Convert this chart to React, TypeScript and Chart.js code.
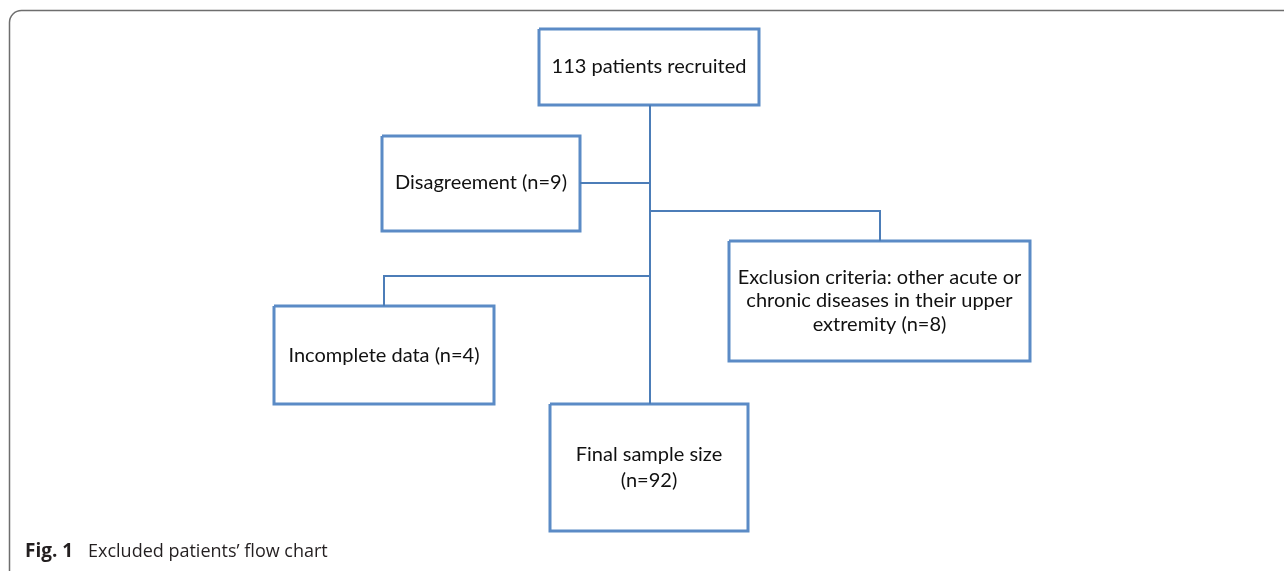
import React, { useEffect, useRef } from "react";
import { Chart, registerables } from "chart.js";

Chart.register(...registerables);

const W = 1284;
const H = 571;

// Boxes of the flow chart (in page pixel units used as data units)
const boxLabels: string[][] = [
  ["113 patients recruited"],
  ["Disagreement (n=9)"],
  ["Exclusion criteria: other acute or", "chronic diseases in their upper", "extremity (n=8)"],
  ["Incomplete data (n=4)"],
  ["Final sample size", "(n=92)"],
];
const boxLeft = [539, 382, 729, 274, 550];
const boxRight = [759, 580, 1030, 494, 748];
const boxTop = [29, 136, 241, 306, 404];
const boxBottom = [105, 231, 361, 404, 531];
const textCenterY = [67, 183, 301, 356, 468];
const textLineGap = [24, 24, 23.5, 24, 26];

// Connector polylines
const connectorX: number[][] = [
  [650, 650],
  [580, 650],
  [650, 880, 880],
  [650, 384, 384],
];
const connectorY: number[][] = [
  [105, 404],
  [183, 183],
  [211, 211, 241],
  [276, 276, 306],
];

const captionBold = "Fig. 1";
const captionText = "Excluded patients\u2019 flow chart";

const BOX_COLOR = "#5b8bc6";
const LINE_COLOR = "#4c7db8";

export default function App() {
  const ref = useRef<HTMLCanvasElement | null>(null);

  useEffect(() => {
    document.body.style.margin = "0";
    const canvas = ref.current;
    if (!canvas) return;

    const datasets: any[] = [];
    connectorX.forEach((xs, i) => {
      datasets.push({
        type: "line",
        data: xs.map((x, j) => ({ x, y: connectorY[i][j] })),
        borderColor: LINE_COLOR,
        borderWidth: 2,
        pointRadius: 0,
        fill: false,
        tension: 0,
      });
    });
    boxLabels.forEach((_, i) => {
      const l = boxLeft[i], r = boxRight[i], t = boxTop[i], b = boxBottom[i];
      datasets.push({
        type: "line",
        data: [
          { x: l, y: t },
          { x: r, y: t },
          { x: r, y: b },
          { x: l, y: b },
          { x: l, y: t },
        ],
        borderColor: BOX_COLOR,
        backgroundColor: "#ffffff",
        borderWidth: 3,
        borderJoinStyle: "miter",
        pointRadius: 0,
        fill: true,
        tension: 0,
      });
    });

    const overlay = {
      id: "flowOverlay",
      beforeDatasetsDraw(chart: any) {
        const { ctx, scales } = chart;
        const xs = scales.x, ys = scales.y;
        ctx.save();
        ctx.fillStyle = "#ffffff";
        ctx.fillRect(0, 0, chart.width, chart.height);
        // outer frame with rounded top-left corner
        const x0 = xs.getPixelForValue(9.5);
        const y0 = ys.getPixelForValue(10.5);
        const rad = 12;
        ctx.strokeStyle = "#6e6e6e";
        ctx.lineWidth = 1.5;
        ctx.beginPath();
        ctx.moveTo(x0, chart.height + 5);
        ctx.lineTo(x0, y0 + rad);
        ctx.arcTo(x0, y0, x0 + rad, y0, rad);
        ctx.lineTo(chart.width + 5, y0);
        ctx.stroke();
        ctx.restore();
      },
      afterDatasetsDraw(chart: any) {
        const { ctx, scales } = chart;
        const xs = scales.x, ys = scales.y;
        ctx.save();
        ctx.fillStyle = "#111111";
        ctx.font = "20px Lato, 'Open Sans', sans-serif";
        ctx.textAlign = "center";
        ctx.textBaseline = "middle";
        boxLabels.forEach((lines, i) => {
          const cx = xs.getPixelForValue((boxLeft[i] + boxRight[i]) / 2);
          const n = lines.length;
          lines.forEach((line, k) => {
            const yv = textCenterY[i] + (k - (n - 1) / 2) * textLineGap[i];
            ctx.fillText(line, cx, ys.getPixelForValue(yv));
          });
        });
        // caption
        ctx.textAlign = "left";
        ctx.fillStyle = "#231f20";
        ctx.font = "bold 19px 'Open Sans', sans-serif";
        const cy = ys.getPixelForValue(552);
        const cx0 = xs.getPixelForValue(25);
        ctx.fillText(captionBold, cx0, cy);
        ctx.font = "18px 'Open Sans', sans-serif";
        ctx.fillText(captionText, xs.getPixelForValue(88), cy);
        ctx.restore();
      },
    };

    const chart = new Chart(canvas, {
      type: "line",
      data: { datasets },
      options: {
        animation: false,
        responsive: false,
        maintainAspectRatio: false,
        layout: { padding: 0 },
        plugins: { legend: { display: false }, tooltip: { enabled: false } },
        scales: {
          x: { type: "linear", min: 0, max: W, display: false },
          y: { type: "linear", min: 0, max: H, reverse: true, display: false },
        },
      },
      plugins: [overlay],
    } as any);

    return () => chart.destroy();
  }, []);

  return <canvas ref={ref} width={W} height={H} style={{ display: "block" }} />;
}
